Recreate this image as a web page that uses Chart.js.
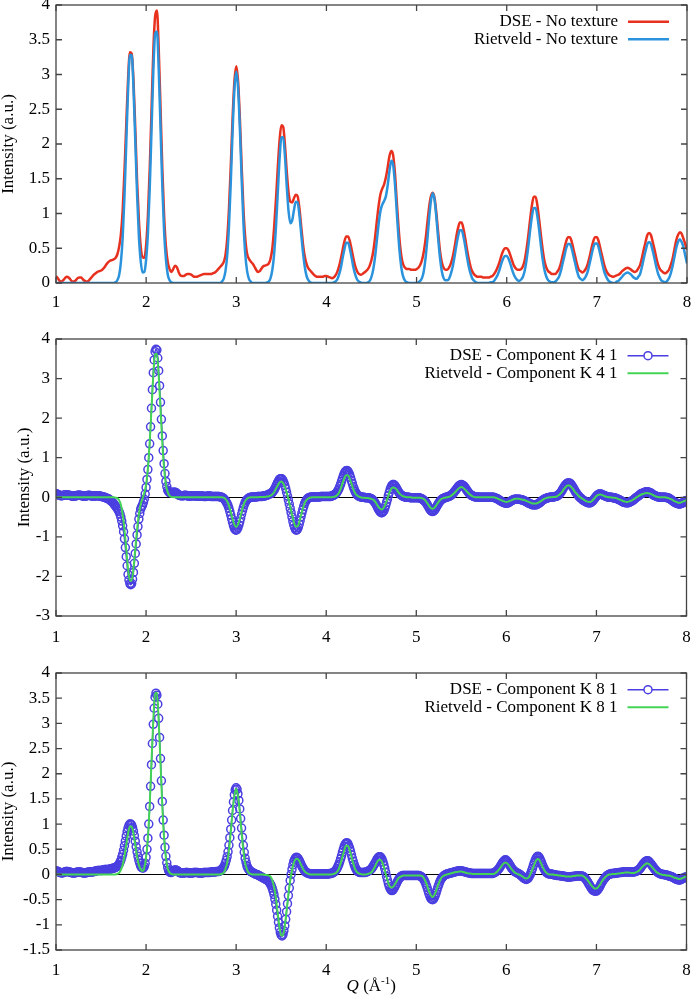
<!DOCTYPE html>
<html>
<head>
<meta charset="utf-8">
<title>DSE vs Rietveld components</title>
<script src="https://cdn.jsdelivr.net/npm/chart.js@4.4.0/dist/chart.umd.min.js"></script>
<style>
  body { margin: 0; background: #fff; }
  #wrap { position: relative; width: 692px; height: 1003px; }
  canvas { position: absolute; left: 0; }
</style>
</head>
<body>
<div id="wrap">
  <canvas id="chartTop" width="692" height="320" style="top:0px"></canvas>
  <canvas id="chartMid" width="692" height="330" style="top:320px"></canvas>
  <canvas id="chartBot" width="692" height="353" style="top:650px"></canvas>
</div>
<script>
// Q grids start at 1.00 and end at 8.00
// lines: step 0.02 (351 samples), DSE circles of the components: step 0.01 (701 samples)
const qStart = 1.0;
const qStep = 0.02;
const qStepDse = 0.01;

const xTicks = [1, 2, 3, 4, 5, 6, 7, 8];
const yTicksTop = [0, 0.5, 1, 1.5, 2, 2.5, 3, 3.5, 4];
const yTicksMid = [-3, -2, -1, 0, 1, 2, 3, 4];
const yTicksBot = [-1.5, -1, -0.5, 0, 0.5, 1, 1.5, 2, 2.5, 3, 3.5, 4];

const labelsTop = ["DSE - No texture", "Rietveld - No texture"];
const labelsMid = ["DSE - Component K 4 1", "Rietveld - Component K 4 1"];
const labelsBot = ["DSE - Component K 8 1", "Rietveld - Component K 8 1"];

// top panel, no texture (step 0.02)
const dseNoTex = [
0.10,0.07,0.03,0.02,0.04,0.07,0.09,0.08,0.05,0.02,
0.02,0.04,0.07,0.08,0.08,0.05,0.03,0.02,0.03,0.06,
0.09,0.12,0.14,0.16,0.17,0.18,0.20,0.23,0.27,0.30,
0.32,0.33,0.34,0.36,0.41,0.52,0.70,1.05,1.62,2.30,
2.95,3.32,3.30,2.90,2.20,1.45,0.90,0.52,0.37,0.36,
0.55,0.98,1.65,2.50,3.35,3.84,3.92,3.35,2.50,1.62,
0.95,0.52,0.30,0.20,0.16,0.20,0.25,0.23,0.16,0.11,
0.10,0.10,0.12,0.13,0.13,0.12,0.10,0.09,0.09,0.10,
0.11,0.12,0.13,0.13,0.13,0.13,0.13,0.14,0.15,0.17,
0.20,0.23,0.26,0.30,0.40,0.65,1.10,1.72,2.40,2.92,
3.12,2.90,2.36,1.66,1.05,0.64,0.42,0.35,0.31,0.28,
0.24,0.19,0.16,0.17,0.21,0.24,0.25,0.26,0.28,0.35,
0.50,0.80,1.20,1.65,2.05,2.27,2.25,1.98,1.60,1.30,
1.17,1.16,1.22,1.27,1.25,1.08,0.82,0.56,0.38,0.27,
0.21,0.18,0.15,0.12,0.10,0.09,0.09,0.09,0.09,0.10,
0.10,0.09,0.08,0.07,0.08,0.11,0.16,0.24,0.35,0.48,
0.60,0.67,0.67,0.60,0.48,0.35,0.24,0.17,0.13,0.12,
0.13,0.15,0.17,0.20,0.25,0.33,0.46,0.66,0.90,1.12,
1.28,1.36,1.42,1.52,1.67,1.83,1.90,1.84,1.58,1.18,
0.80,0.50,0.32,0.24,0.21,0.20,0.20,0.19,0.19,0.19,
0.20,0.22,0.26,0.33,0.45,0.63,0.87,1.10,1.25,1.30,
1.22,1.00,0.72,0.46,0.30,0.22,0.19,0.19,0.22,0.28,
0.37,0.50,0.66,0.79,0.87,0.87,0.78,0.64,0.48,0.34,
0.23,0.16,0.12,0.10,0.09,0.09,0.09,0.08,0.08,0.08,
0.08,0.09,0.10,0.13,0.17,0.23,0.30,0.39,0.46,0.50,
0.50,0.47,0.40,0.32,0.25,0.21,0.19,0.19,0.20,0.24,
0.33,0.49,0.69,0.92,1.12,1.24,1.24,1.12,0.91,0.68,
0.47,0.31,0.22,0.17,0.15,0.13,0.13,0.13,0.16,0.20,
0.28,0.39,0.50,0.60,0.66,0.66,0.60,0.49,0.38,0.27,
0.19,0.17,0.15,0.17,0.21,0.28,0.38,0.50,0.60,0.66,
0.66,0.60,0.49,0.38,0.27,0.19,0.14,0.11,0.10,0.09,
0.10,0.11,0.12,0.14,0.17,0.19,0.21,0.22,0.21,0.19,
0.17,0.16,0.17,0.21,0.26,0.36,0.48,0.59,0.69,0.72,
0.69,0.59,0.48,0.36,0.26,0.20,0.17,0.15,0.14,0.16,
0.19,0.26,0.35,0.48,0.61,0.69,0.73,0.71,0.64,0.56,
0.48
];
const rietNoTex = [
0,0,0,0,0,0,0,0,0,0,
0,0,0,0,0,0,0,0,0,0,
0,0,0,0,0,0,0,0,0,0,
0,0,0,0.01,0.04,0.11,0.30,0.66,1.26,2.03,
2.80,3.28,3.28,2.80,2.03,1.26,0.66,0.31,0.15,0.16,
0.34,0.72,1.37,2.22,3.06,3.59,3.62,3.06,2.22,1.37,
0.72,0.33,0.12,0.04,0.01,0,0,0,0,0,
0,0,0,0,0,0,0,0,0,0,
0,0,0,0,0,0,0,0,0,0,
0,0,0.02,0.06,0.17,0.41,0.85,1.49,2.22,2.80,
3.04,2.80,2.22,1.49,0.85,0.41,0.17,0.06,0.02,0,
0,0,0,0,0,0,0,0.01,0.02,0.07,
0.19,0.42,0.80,1.29,1.78,2.09,2.10,1.82,1.39,1.03,
0.86,0.90,1.05,1.17,1.16,0.98,0.71,0.44,0.23,0.10,
0.04,0.01,0,0,0,0,0,0,0,0,
0,0,0,0,0.01,0.02,0.05,0.12,0.22,0.36,
0.49,0.58,0.58,0.49,0.36,0.22,0.12,0.05,0.02,0.01,
0,0,0,0.01,0.03,0.09,0.20,0.38,0.62,0.86,
1.04,1.13,1.18,1.25,1.41,1.62,1.76,1.70,1.43,1.03,
0.64,0.34,0.15,0.06,0.02,0.01,0,0,0,0,
0,0.01,0.03,0.07,0.17,0.36,0.63,0.94,1.19,1.29,
1.19,0.94,0.63,0.36,0.17,0.07,0.04,0.04,0.06,0.13,
0.23,0.37,0.53,0.67,0.76,0.76,0.67,0.53,0.37,0.23,
0.13,0.06,0.03,0.01,0,0,0,0,0,0,
0,0.01,0.01,0.03,0.07,0.12,0.19,0.28,0.35,0.39,
0.39,0.35,0.28,0.19,0.12,0.07,0.04,0.03,0.05,0.09,
0.18,0.33,0.53,0.76,0.96,1.08,1.08,0.96,0.76,0.53,
0.33,0.18,0.09,0.04,0.02,0.01,0.01,0.02,0.05,0.09,
0.17,0.28,0.39,0.50,0.56,0.56,0.50,0.39,0.28,0.17,
0.09,0.06,0.04,0.06,0.10,0.17,0.28,0.40,0.51,0.57,
0.57,0.51,0.40,0.28,0.17,0.10,0.05,0.02,0.01,0,
0,0.02,0.03,0.06,0.09,0.12,0.14,0.15,0.14,0.12,
0.09,0.07,0.06,0.09,0.13,0.23,0.35,0.46,0.56,0.59,
0.56,0.46,0.35,0.23,0.13,0.07,0.03,0.02,0.01,0.03,
0.07,0.14,0.24,0.37,0.50,0.59,0.63,0.59,0.52,0.40,
0.28
];

// middle panel, component K 4 1 (DSE step 0.01, Rietveld step 0.02)
const dseK41 = [
0.09,0.08,0.07,0.06,0.05,0.04,0.04,0.04,0.05,0.05,0.06,0.06,0.06,0.06,0.05,0.05,0.04,0.04,0.03,0.03,
0.03,0.03,0.04,0.04,0.05,0.05,0.05,0.05,0.04,0.04,0.03,0.03,0.03,0.03,0.04,0.04,0.05,0.05,0.04,0.04,
0.03,0.03,0.03,0.03,0.04,0.04,0.04,0.04,0.03,0.03,0.02,0.02,0.01,0.01,0,-0.01,-0.02,-0.03,-0.04,-0.05,
-0.07,-0.09,-0.11,-0.13,-0.16,-0.19,-0.22,-0.25,-0.28,-0.32,-0.36,-0.42,-0.50,-0.60,-0.72,-0.87,-1.05,-1.27,-1.50,-1.73,
-1.95,-2.09,-2.18,-2.21,-2.18,-2.07,-1.90,-1.67,-1.42,-1.18,-0.95,-0.74,-0.55,-0.41,-0.30,-0.24,-0.20,-0.13,-0.05,0.08,
0.25,0.45,0.70,1.00,1.35,1.78,2.25,2.72,3.15,3.47,3.68,3.74,3.72,3.52,3.20,2.82,2.40,1.97,1.55,1.18,
0.85,0.60,0.40,0.27,0.18,0.14,0.12,0.12,0.12,0.12,0.13,0.13,0.13,0.12,0.10,0.08,0.06,0.05,0.04,0.04,
0.04,0.04,0.04,0.05,0.05,0.04,0.04,0.03,0.03,0.03,0.03,0.04,0.04,0.04,0.04,0.03,0.03,0.03,0.03,0.03,
0.03,0.03,0.03,0.03,0.02,0.02,0.02,0.02,0.03,0.03,0.03,0.03,0.02,0.02,0.02,0.02,0.02,0.02,0.02,0.02,
0.02,0.02,0.01,0.01,0,-0.01,-0.03,-0.05,-0.08,-0.12,-0.16,-0.21,-0.28,-0.36,-0.45,-0.54,-0.63,-0.71,-0.78,-0.82,
-0.83,-0.81,-0.77,-0.70,-0.62,-0.53,-0.43,-0.34,-0.26,-0.19,-0.13,-0.09,-0.06,-0.04,-0.02,-0.01,0,0,0.01,0.01,
0.01,0.01,0.01,0.01,0.02,0.02,0.02,0.02,0.02,0.02,0.03,0.03,0.04,0.04,0.05,0.06,0.07,0.08,0.09,0.10,
0.12,0.15,0.18,0.22,0.27,0.32,0.37,0.41,0.45,0.47,0.47,0.46,0.42,0.37,0.30,0.22,0.13,0.03,-0.07,-0.17,
-0.28,-0.39,-0.50,-0.61,-0.70,-0.77,-0.82,-0.83,-0.81,-0.76,-0.68,-0.59,-0.49,-0.40,-0.31,-0.23,-0.16,-0.11,-0.07,-0.04,
-0.02,-0.01,0,0,0.01,0.01,0.01,0.01,0.01,0.01,0.01,0.01,0.01,0.01,0.02,0.02,0.02,0.02,0.02,0.02,
0.02,0.02,0.02,0.02,0.02,0.02,0.03,0.04,0.05,0.06,0.08,0.10,0.13,0.17,0.21,0.27,0.33,0.40,0.47,0.54,
0.60,0.64,0.67,0.68,0.66,0.62,0.57,0.50,0.42,0.35,0.27,0.21,0.15,0.11,0.07,0.05,0.03,0.02,0.01,0.01,
0,0,0,-0.01,-0.01,-0.01,-0.01,-0.01,-0.02,-0.03,-0.04,-0.05,-0.07,-0.10,-0.13,-0.17,-0.21,-0.26,-0.30,-0.34,
-0.37,-0.39,-0.39,-0.37,-0.34,-0.28,-0.21,-0.13,-0.05,0.04,0.12,0.20,0.26,0.30,0.32,0.32,0.30,0.27,0.23,0.19,
0.15,0.11,0.08,0.06,0.04,0.03,0.02,0.01,0.01,0,0,0,0,-0.01,-0.01,-0.01,-0.01,-0.01,-0.01,-0.01,
-0.01,-0.01,-0.01,-0.01,-0.02,-0.03,-0.04,-0.05,-0.07,-0.09,-0.11,-0.14,-0.18,-0.22,-0.26,-0.30,-0.33,-0.35,-0.36,-0.35,
-0.33,-0.30,-0.26,-0.22,-0.18,-0.14,-0.11,-0.08,-0.06,-0.04,-0.03,-0.02,-0.01,0,0.01,0.01,0.02,0.03,0.04,0.06,
0.08,0.10,0.13,0.16,0.19,0.22,0.25,0.28,0.30,0.31,0.32,0.31,0.30,0.28,0.25,0.22,0.18,0.15,0.12,0.09,
0.07,0.05,0.04,0.03,0.02,0.01,0.01,0.01,0.01,0,0,0,0,0,0,0,0,0,0,0,
0,0,0,0,0,0,0,-0.01,-0.02,-0.03,-0.04,-0.05,-0.07,-0.08,-0.10,-0.11,-0.12,-0.13,-0.14,-0.15,
-0.15,-0.15,-0.14,-0.13,-0.11,-0.10,-0.08,-0.07,-0.06,-0.05,-0.05,-0.05,-0.05,-0.05,-0.05,-0.05,-0.06,-0.06,-0.07,-0.08,
-0.09,-0.10,-0.11,-0.12,-0.14,-0.15,-0.16,-0.17,-0.18,-0.19,-0.19,-0.19,-0.19,-0.19,-0.18,-0.17,-0.15,-0.14,-0.12,-0.10,
-0.08,-0.06,-0.05,-0.04,-0.03,-0.02,-0.01,-0.01,0,0,0.01,0.01,0.01,0.01,0.02,0.02,0.03,0.04,0.06,0.08,
0.11,0.14,0.18,0.22,0.26,0.29,0.32,0.34,0.36,0.36,0.36,0.35,0.32,0.29,0.25,0.21,0.17,0.13,0.10,0.07,
0.04,0.01,-0.01,-0.03,-0.05,-0.07,-0.08,-0.10,-0.11,-0.12,-0.13,-0.14,-0.14,-0.14,-0.13,-0.11,-0.09,-0.06,-0.03,0,
0.03,0.05,0.07,0.08,0.08,0.08,0.07,0.06,0.05,0.04,0.03,0.02,0.01,0.01,0,0,0,0,-0.01,-0.01,
-0.02,-0.02,-0.03,-0.04,-0.05,-0.06,-0.07,-0.08,-0.10,-0.11,-0.12,-0.13,-0.13,-0.14,-0.14,-0.14,-0.13,-0.12,-0.11,-0.10,
-0.08,-0.07,-0.05,-0.03,-0.01,0.01,0.02,0.04,0.06,0.08,0.09,0.10,0.11,0.12,0.13,0.14,0.14,0.14,0.13,0.12,
0.11,0.10,0.08,0.06,0.05,0.04,0.03,0.02,0.01,0.01,0.01,0,0,0,0,0,0,0,-0.01,-0.01,
-0.02,-0.03,-0.05,-0.06,-0.08,-0.10,-0.11,-0.13,-0.14,-0.15,-0.16,-0.17,-0.17,-0.17,-0.16,-0.15,-0.14,-0.12,-0.11,-0.09,
-0.08
];
const rietK41 = [
0,0,0,0,0,0,0,0,0,0,
0,0,0,0,0,0,0,0,0,0,
0,0,0,0,0,0,0,0,0,0,
0,0,0,-0.01,-0.02,-0.07,-0.19,-0.43,-0.81,-1.31,
-1.80,-2.11,-2.11,-1.80,-1.31,-0.81,-0.43,-0.18,-0.03,0.11,
0.32,0.73,1.38,2.23,3.07,3.61,3.63,3.07,2.23,1.38,
0.73,0.33,0.13,0.04,0.01,0,0,0,0,0,
0,0,0,0,0,0,0,0,0,0,
0,0,0,0,0,0,0,0,0,0,
0,0,0,-0.01,-0.04,-0.10,-0.21,-0.37,-0.55,-0.69,
-0.75,-0.69,-0.55,-0.37,-0.21,-0.10,-0.04,-0.01,0,0,
0,0,0,0.01,0.01,0.01,0.01,0.02,0.02,0.04,
0.07,0.12,0.21,0.29,0.37,0.40,0.36,0.26,0.13,-0.04,
-0.24,-0.44,-0.62,-0.74,-0.74,-0.63,-0.46,-0.29,-0.15,-0.07,
-0.03,-0.01,0,0,0,0,0,0,0,0,
0,0,0,0,0.01,0.02,0.05,0.11,0.21,0.35,
0.48,0.56,0.56,0.48,0.35,0.21,0.11,0.05,0.02,0,
-0.01,-0.01,-0.02,-0.02,-0.03,-0.04,-0.06,-0.10,-0.17,-0.24,
-0.29,-0.31,-0.26,-0.16,-0.03,0.11,0.21,0.25,0.24,0.20,
0.13,0.08,0.04,0.02,0.01,0,0,0,-0.01,-0.01,
-0.01,-0.01,-0.01,-0.02,-0.04,-0.08,-0.14,-0.21,-0.27,-0.29,
-0.27,-0.21,-0.14,-0.08,-0.04,-0.02,-0.01,0,0.01,0.03,
0.06,0.10,0.15,0.20,0.24,0.26,0.24,0.20,0.15,0.10,
0.06,0.03,0.01,0,0,0,0,0,0,0,
0,0,0,0,-0.01,-0.03,-0.05,-0.07,-0.09,-0.11,
-0.12,-0.11,-0.09,-0.07,-0.05,-0.04,-0.04,-0.04,-0.05,-0.06,
-0.07,-0.09,-0.11,-0.13,-0.15,-0.16,-0.16,-0.15,-0.13,-0.10,
-0.07,-0.04,-0.02,-0.01,0,0,0.01,0.01,0.02,0.05,
0.09,0.14,0.21,0.26,0.30,0.30,0.26,0.21,0.14,0.09,
0.04,0,-0.03,-0.06,-0.09,-0.11,-0.12,-0.11,-0.07,-0.02,
0.03,0.06,0.07,0.06,0.04,0.02,0.01,0,0,-0.01,
-0.01,-0.02,-0.04,-0.06,-0.08,-0.10,-0.11,-0.12,-0.11,-0.09,
-0.07,-0.04,-0.01,0.02,0.05,0.07,0.09,0.10,0.11,0.10,
0.09,0.07,0.04,0.02,0.01,0,0,0,0,-0.01,
-0.02,-0.04,-0.06,-0.09,-0.11,-0.13,-0.14,-0.13,-0.11,-0.09,
-0.07
];

// bottom panel, component K 8 1 (DSE step 0.01, Rietveld step 0.02)
const dseK81 = [
0.07,0.07,0.06,0.05,0.04,0.04,0.03,0.03,0.04,0.04,0.05,0.06,0.06,0.06,0.05,0.05,0.04,0.04,0.03,0.03,
0.03,0.03,0.04,0.04,0.05,0.05,0.05,0.05,0.04,0.04,0.03,0.03,0.03,0.03,0.04,0.04,0.05,0.05,0.05,0.05,
0.05,0.05,0.06,0.06,0.07,0.07,0.08,0.08,0.08,0.08,0.08,0.08,0.09,0.09,0.10,0.10,0.10,0.10,0.10,0.10,
0.11,0.11,0.12,0.12,0.13,0.13,0.14,0.15,0.16,0.18,0.20,0.24,0.28,0.34,0.40,0.48,0.57,0.66,0.76,0.85,
0.92,0.97,1.00,1.00,0.98,0.93,0.86,0.77,0.66,0.55,0.45,0.36,0.28,0.22,0.17,0.14,0.13,0.13,0.16,0.22,
0.34,0.50,0.72,1.00,1.35,1.75,2.18,2.60,2.98,3.30,3.52,3.60,3.56,3.38,3.10,2.72,2.30,1.86,1.45,1.08,
0.78,0.54,0.36,0.23,0.14,0.08,0.05,0.04,0.04,0.05,0.07,0.08,0.09,0.09,0.08,0.07,0.05,0.04,0.03,0.03,
0.03,0.03,0.03,0.03,0.04,0.04,0.04,0.03,0.03,0.03,0.03,0.03,0.03,0.04,0.04,0.04,0.04,0.04,0.03,0.03,
0.03,0.03,0.03,0.03,0.04,0.04,0.04,0.04,0.04,0.04,0.04,0.04,0.05,0.05,0.05,0.05,0.05,0.05,0.06,0.06,
0.06,0.06,0.07,0.08,0.10,0.12,0.14,0.17,0.22,0.28,0.35,0.45,0.58,0.73,0.90,1.08,1.27,1.44,1.58,1.68,
1.72,1.69,1.60,1.47,1.30,1.11,0.92,0.74,0.58,0.44,0.32,0.24,0.17,0.13,0.10,0.08,0.06,0.05,0.04,0.03,
0.02,0.01,0,0,-0.01,-0.02,-0.03,-0.04,-0.05,-0.06,-0.07,-0.08,-0.09,-0.10,-0.11,-0.12,-0.14,-0.16,-0.19,-0.22,
-0.27,-0.33,-0.40,-0.49,-0.59,-0.71,-0.83,-0.95,-1.06,-1.15,-1.20,-1.22,-1.19,-1.12,-1.02,-0.89,-0.74,-0.58,-0.42,-0.27,
-0.12,0,0.10,0.19,0.26,0.30,0.33,0.34,0.33,0.31,0.28,0.24,0.20,0.16,0.13,0.10,0.07,0.05,0.04,0.03,
0.02,0.02,0.01,0.01,0.01,0.01,0.01,0.01,0.01,0.01,0.01,0.01,0.01,0.01,0.01,0.01,0.01,0.01,0.01,0.01,
0.01,0.01,0.01,0.01,0.02,0.02,0.02,0.03,0.04,0.05,0.07,0.09,0.12,0.16,0.20,0.25,0.31,0.37,0.44,0.50,
0.56,0.60,0.62,0.63,0.61,0.57,0.52,0.46,0.39,0.32,0.26,0.20,0.15,0.11,0.08,0.06,0.05,0.04,0.04,0.04,
0.04,0.04,0.04,0.04,0.05,0.05,0.06,0.07,0.08,0.09,0.11,0.13,0.16,0.19,0.22,0.25,0.29,0.32,0.34,0.35,
0.35,0.33,0.30,0.25,0.19,0.12,0.04,-0.04,-0.11,-0.18,-0.24,-0.28,-0.31,-0.32,-0.31,-0.28,-0.25,-0.21,-0.18,-0.14,
-0.11,-0.08,-0.06,-0.04,-0.03,-0.02,-0.02,-0.02,-0.02,-0.02,-0.02,-0.02,-0.02,-0.02,-0.02,-0.02,-0.02,-0.02,-0.02,-0.02,
-0.02,-0.02,-0.02,-0.02,-0.03,-0.04,-0.05,-0.07,-0.09,-0.12,-0.16,-0.21,-0.26,-0.32,-0.38,-0.43,-0.47,-0.49,-0.50,-0.49,
-0.46,-0.42,-0.37,-0.31,-0.25,-0.20,-0.15,-0.11,-0.08,-0.06,-0.04,-0.02,-0.01,0,0.01,0.01,0.02,0.02,0.03,0.03,
0.04,0.04,0.05,0.05,0.06,0.06,0.07,0.07,0.07,0.07,0.07,0.07,0.06,0.06,0.05,0.05,0.04,0.04,0.03,0.03,
0.03,0.02,0.02,0.02,0.02,0.02,0.02,0.02,0.02,0.02,0.02,0.02,0.02,0.02,0.02,0.02,0.02,0.02,0.02,0.02,
0.02,0.02,0.02,0.02,0.02,0.02,0.03,0.04,0.05,0.06,0.08,0.10,0.12,0.15,0.18,0.21,0.24,0.26,0.28,0.29,
0.28,0.26,0.24,0.21,0.18,0.15,0.12,0.10,0.08,0.06,0.05,0.04,0.03,0.02,0.01,0,-0.02,-0.03,-0.05,-0.07,
-0.08,-0.09,-0.10,-0.09,-0.08,-0.05,-0.02,0.02,0.07,0.12,0.18,0.23,0.28,0.32,0.35,0.36,0.35,0.32,0.28,0.24,
0.19,0.15,0.11,0.08,0.05,0.03,0.02,0.01,0.01,0.01,0.01,0,0,-0.01,-0.01,-0.01,-0.02,-0.02,-0.02,-0.02,
-0.03,-0.03,-0.03,-0.03,-0.04,-0.04,-0.04,-0.05,-0.05,-0.05,-0.05,-0.05,-0.05,-0.04,-0.04,-0.04,-0.04,-0.03,-0.03,-0.03,
-0.03,-0.03,-0.03,-0.03,-0.03,-0.04,-0.05,-0.07,-0.09,-0.11,-0.14,-0.17,-0.20,-0.23,-0.26,-0.29,-0.31,-0.32,-0.33,-0.33,
-0.33,-0.31,-0.29,-0.26,-0.23,-0.19,-0.16,-0.13,-0.10,-0.08,-0.06,-0.04,-0.02,-0.01,0,0.01,0.01,0.02,0.02,0.02,
0.02,0.03,0.03,0.03,0.03,0.04,0.04,0.04,0.04,0.05,0.05,0.05,0.05,0.05,0.05,0.05,0.05,0.05,0.05,0.05,
0.05,0.05,0.05,0.06,0.06,0.07,0.08,0.09,0.11,0.13,0.16,0.18,0.21,0.23,0.25,0.26,0.27,0.27,0.26,0.24,
0.22,0.20,0.17,0.15,0.12,0.10,0.08,0.06,0.04,0.03,0.02,0.01,0.01,0,0,0,-0.01,-0.01,-0.01,-0.02,
-0.03,-0.03,-0.04,-0.04,-0.05,-0.06,-0.07,-0.08,-0.09,-0.10,-0.10,-0.11,-0.11,-0.11,-0.10,-0.09,-0.08,-0.07,-0.06,-0.05,
-0.05
];
const rietK81 = [
0,0,0,0,0,0,0,0,0,0,
0,0,0,0,0,0,0,0,0,0,
0,0,0,0,0,0,0,0,0,0,
0,0,0,0,0.01,0.03,0.09,0.19,0.36,0.59,
0.81,0.95,0.95,0.81,0.59,0.36,0.19,0.10,0.07,0.13,
0.34,0.72,1.37,2.22,3.06,3.59,3.61,3.06,2.22,1.37,
0.72,0.33,0.12,0.04,0.01,0,0,0,0,0,
0,0,0,0,0,0,0,0,0,0,
0,0,0,0,0,0,0,0,0,0,
0,0,0.01,0.03,0.10,0.23,0.48,0.83,1.24,1.56,
1.70,1.56,1.24,0.83,0.48,0.23,0.10,0.03,0.01,0,
0,0,0,0,0,0,-0.01,-0.01,-0.02,-0.04,
-0.11,-0.24,-0.46,-0.75,-1.03,-1.21,-1.21,-1.02,-0.72,-0.40,
-0.12,0.08,0.23,0.30,0.31,0.27,0.19,0.12,0.06,0.03,
0.01,0,0,0,0,0,0,0,0,0,
0,0,0,0,0.01,0.02,0.05,0.11,0.22,0.35,
0.48,0.57,0.57,0.48,0.35,0.22,0.11,0.05,0.02,0.01,
0,0,0,0.01,0.02,0.04,0.09,0.15,0.23,0.28,
0.29,0.25,0.15,0.01,-0.11,-0.22,-0.26,-0.25,-0.20,-0.14,
-0.08,-0.05,-0.03,-0.02,-0.02,-0.02,-0.02,-0.02,-0.02,-0.02,
-0.02,-0.02,-0.02,-0.03,-0.06,-0.13,-0.22,-0.33,-0.41,-0.45,
-0.41,-0.33,-0.22,-0.13,-0.06,-0.03,-0.01,0,0.01,0.02,
0.03,0.04,0.05,0.05,0.06,0.06,0.05,0.04,0.03,0.02,
0.02,0.01,0.01,0.01,0.01,0.01,0.01,0.01,0.01,0.01,
0.01,0.01,0.01,0.01,0.03,0.06,0.10,0.15,0.20,0.23,
0.23,0.20,0.15,0.10,0.06,0.03,0.01,0,-0.02,-0.04,
-0.07,-0.08,-0.07,-0.02,0.06,0.15,0.24,0.30,0.30,0.24,
0.16,0.09,0.04,0.01,0,0,0,-0.01,-0.01,-0.02,
-0.02,-0.03,-0.03,-0.04,-0.04,-0.04,-0.04,-0.03,-0.03,-0.02,
-0.02,-0.02,-0.02,-0.04,-0.07,-0.11,-0.16,-0.21,-0.25,-0.28,
-0.28,-0.25,-0.20,-0.14,-0.09,-0.05,-0.02,0,0,0.01,
0.01,0.01,0.02,0.02,0.03,0.03,0.04,0.04,0.04,0.03,
0.03,0.03,0.04,0.06,0.09,0.13,0.17,0.20,0.22,0.21,
0.18,0.14,0.10,0.06,0.03,0.01,0,-0.01,-0.01,-0.02,
-0.02,-0.03,-0.04,-0.06,-0.07,-0.08,-0.09,-0.08,-0.07,-0.05,
-0.04
];

const FONT = "'Liberation Serif', 'Times New Roman', serif";
Chart.defaults.font.family = FONT;
Chart.defaults.font.size = 17;
Chart.defaults.color = "#000";

function toPoints(values, step) {
  return values.map((v, i) => ({ x: +(qStart + i * step).toFixed(2), y: v }));
}

// gnuplot-like box with inward ticks on all four sides, optional zero line
const frameTicks = {
  id: "frameTicks",
  beforeDatasetsDraw(chart, args, opts) {
    if (!opts.zeroLine) return;
    const { ctx, chartArea: a, scales } = chart;
    const y0 = Math.round(scales.y.getPixelForValue(0)) + 0.5;
    ctx.save();
    ctx.strokeStyle = "#000";
    ctx.lineWidth = 1;
    ctx.beginPath();
    ctx.moveTo(a.left, y0);
    ctx.lineTo(a.right, y0);
    ctx.stroke();
    ctx.restore();
  },
  afterDatasetsDraw(chart) {
    const { ctx, chartArea: a, scales } = chart;
    const len = 6;
    ctx.save();
    ctx.strokeStyle = "#444";
    ctx.lineWidth = 1.3;
    ctx.beginPath();
    scales.x.ticks.forEach(t => {
      const px = scales.x.getPixelForValue(t.value);
      ctx.moveTo(px, a.bottom); ctx.lineTo(px, a.bottom - len);
      ctx.moveTo(px, a.top); ctx.lineTo(px, a.top + len);
    });
    scales.y.ticks.forEach(t => {
      const py = scales.y.getPixelForValue(t.value);
      ctx.moveTo(a.left, py); ctx.lineTo(a.left + len, py);
      ctx.moveTo(a.right, py); ctx.lineTo(a.right - len, py);
    });
    ctx.stroke();
    ctx.strokeRect(a.left, a.top, a.right - a.left, a.bottom - a.top);
    ctx.restore();
  }
};

// legend in the top right corner: text, then the line sample
const sideLegend = {
  id: "sideLegend",
  afterDraw(chart) {
    const { ctx, chartArea: a } = chart;
    ctx.save();
    ctx.font = "17px " + FONT;
    ctx.textAlign = "right";
    ctx.textBaseline = "middle";
    ctx.fillStyle = "#000";
    chart.data.datasets.forEach((ds, i) => {
      const yy = a.top + 16.7 + i * 17.6;
      ctx.fillText(ds.label, a.right - 69, yy);
      ctx.strokeStyle = ds.borderColor;
      ctx.lineWidth = ds.borderWidth;
      ctx.beginPath();
      ctx.moveTo(a.right - 59, yy);
      ctx.lineTo(a.right - 18, yy);
      ctx.stroke();
      if (ds.pointRadius > 0) {
        ctx.lineWidth = ds.pointBorderWidth;
        ctx.fillStyle = "#fff";
        ctx.beginPath();
        ctx.arc(a.right - 38.5, yy, ds.pointRadius, 0, Math.PI * 2);
        ctx.fill();
        ctx.stroke();
        ctx.fillStyle = "#000";
      }
    });
    ctx.restore();
  }
};

// x axis title with italic Q and superscript
const qTitle = {
  id: "qTitle",
  afterDraw(chart, args, opts) {
    if (!opts.show) return;
    const { ctx, chartArea: a } = chart;
    const parts = [
      { t: "Q", f: "italic 17px " + FONT, dy: 0 },
      { t: " (\u00C5", f: "17px " + FONT, dy: 0 },
      { t: "-1", f: "11px " + FONT, dy: -7 },
      { t: ")", f: "17px " + FONT, dy: 0 }
    ];
    ctx.save();
    ctx.fillStyle = "#000";
    ctx.textBaseline = "alphabetic";
    let total = 0;
    parts.forEach(p => { ctx.font = p.f; p.w = ctx.measureText(p.t).width; total += p.w; });
    let x = (a.left + a.right) / 2 - total / 2;
    parts.forEach(p => {
      ctx.font = p.f;
      ctx.fillText(p.t, x, opts.baseline + p.dy);
      x += p.w;
    });
    ctx.restore();
  }
};

function makeChart(canvasId, labels, dse, riet, style) {
  const ctx = document.getElementById(canvasId).getContext("2d");
  const dseSet = {
    label: labels[0],
    data: toPoints(dse, style.dseStep),
    borderColor: style.dseColor,
    borderWidth: style.dseWidth,
    pointRadius: style.dsePoints ? 4 : 0,
    pointBorderWidth: 1.5,
    pointBorderColor: style.dseColor,
    pointBackgroundColor: "rgba(0,0,0,0)",
    cubicInterpolationMode: "monotone",
    order: 2
  };
  const rietSet = {
    label: labels[1],
    data: toPoints(riet, qStep),
    borderColor: style.rietColor,
    borderWidth: style.rietWidth,
    pointRadius: 0,
    cubicInterpolationMode: "monotone",
    order: 1
  };
  return new Chart(ctx, {
    type: "line",
    data: { datasets: [dseSet, rietSet] },
    plugins: [frameTicks, sideLegend, qTitle],
    options: {
      responsive: false,
      animation: false,
      events: [],
      layout: { padding: { top: style.top, right: 5, left: 0, bottom: 0 } },
      scales: {
        x: {
          type: "linear",
          min: 1,
          max: 8,
          afterBuildTicks: s => { s.ticks = xTicks.map(v => ({ value: v })); },
          grid: { display: false, drawTicks: false },
          border: { display: false },
          ticks: { padding: style.xPad, callback: v => String(v) },
          afterFit: s => { s.height = style.xHeight; s.paddingLeft = 0; s.paddingRight = 0; }
        },
        y: {
          min: style.yTicks[0],
          max: style.yTicks[style.yTicks.length - 1],
          afterBuildTicks: s => { s.ticks = style.yTicks.map(v => ({ value: v })); },
          grid: { display: false, drawTicks: false },
          border: { display: false },
          ticks: { padding: 6, callback: v => String(v) },
          title: {
            display: true,
            text: "Intensity (a.u.)",
            font: { size: 17, lineHeight: 1 },
            padding: { top: style.titlePad, bottom: 0 }
          },
          afterFit: s => { s.width = 56; s.paddingTop = 0; s.paddingBottom = 0; }
        }
      },
      plugins: {
        legend: { display: false },
        tooltip: { enabled: false },
        frameTicks: { zeroLine: style.zeroLine },
        qTitle: { show: style.qTitle, baseline: 341 }
      }
    }
  });
}

makeChart("chartTop", labelsTop, dseNoTex, rietNoTex, {
  dseColor: "#e8301e", dseWidth: 2.5, dsePoints: false, dseStep: qStep,
  rietColor: "#2a93dc", rietWidth: 2.5,
  top: 5, xHeight: 37, xPad: 9, yTicks: yTicksTop, titlePad: 0,
  zeroLine: false, qTitle: false
});

makeChart("chartMid", labelsMid, dseK41, rietK41, {
  dseColor: "#4a3fe0", dseWidth: 1.5, dsePoints: true, dseStep: qStepDse,
  rietColor: "#44d455", rietWidth: 2,
  top: 19, xHeight: 34, xPad: 11, yTicks: yTicksMid, titlePad: 16,
  zeroLine: true, qTitle: false
});

makeChart("chartBot", labelsBot, dseK81, rietK81, {
  dseColor: "#4a3fe0", dseWidth: 1.5, dsePoints: true, dseStep: qStepDse,
  rietColor: "#44d455", rietWidth: 2,
  top: 23, xHeight: 53, xPad: 10, yTicks: yTicksBot, titlePad: 0,
  zeroLine: true, qTitle: true
});
</script>
</body>
</html>
